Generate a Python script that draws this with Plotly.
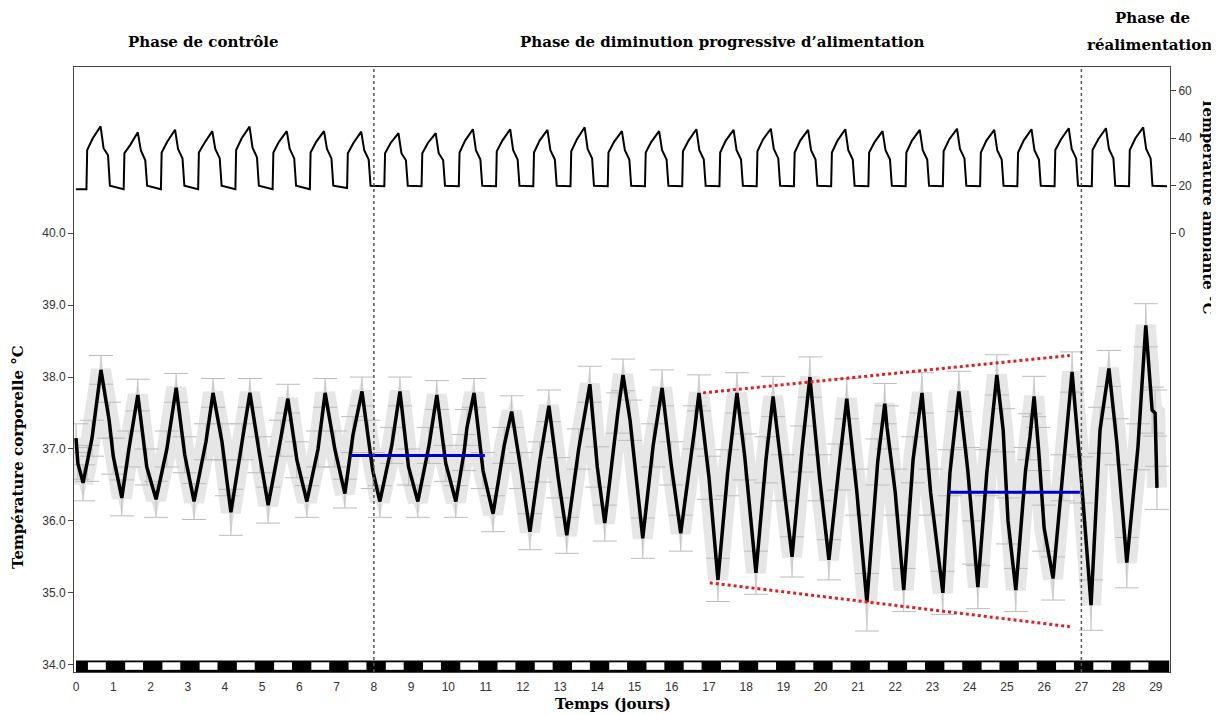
import plotly.graph_objects as go

# ---------------- data ----------------
# Body temperature (°C): time (days), mean value, error half-width
body_t = [
    0.00, 0.05, 0.19, 0.30, 0.43, 0.67, 0.89,
    1.00, 1.23, 1.42, 1.66, 1.90,
    2.15, 2.44, 2.69, 2.92,
    3.17, 3.49, 3.68, 3.92,
    4.05, 4.16, 4.46, 4.67, 4.93,
    5.16, 5.50, 5.69, 5.93,
    6.20, 6.50, 6.69, 6.95,
    7.22, 7.44, 7.68, 7.85, 7.97,
    8.16, 8.48, 8.70, 8.93,
    9.18, 9.48, 9.69, 9.93,
    10.20, 10.42, 10.50, 10.69, 10.93,
    11.20, 11.50, 11.70, 11.95,
    12.19, 12.45, 12.70, 12.95,
    13.18, 13.50, 13.80, 14.00,
    14.20, 14.55, 14.69, 14.88,
    15.22, 15.50, 15.74, 15.98,
    16.24, 16.62, 16.73, 17.00,
    17.24, 17.50, 17.75, 17.96,
    18.26, 18.53, 18.72, 18.98,
    19.23, 19.50, 19.71, 19.97,
    20.22, 20.49, 20.70, 20.97,
    21.24, 21.53, 21.72, 21.78, 22.00,
    22.23, 22.48, 22.72, 22.95,
    23.28, 23.47, 23.71, 23.95,
    24.12, 24.22, 24.46, 24.73, 24.90, 25.03,
    25.24, 25.50, 25.62, 25.73, 25.85, 26.00,
    26.24, 26.50, 26.75, 27.00,
    27.26, 27.50, 27.74, 27.95,
    28.22, 28.52, 28.73, 28.90, 28.98, 29.03,
]
body_v = [
    37.15, 36.80, 36.53, 36.80, 37.15, 38.10, 37.40,
    36.90, 36.32, 37.00, 37.75, 36.75,
    36.30, 37.00, 37.85, 36.92,
    36.27, 37.10, 37.78, 37.10,
    36.60, 36.12, 37.10, 37.78, 36.92,
    36.22, 37.15, 37.70, 36.85,
    36.27, 37.00, 37.78, 37.00,
    36.38, 37.20, 37.80, 37.15, 36.70,
    36.27, 37.05, 37.80, 36.75,
    36.27, 37.05, 37.75, 36.80,
    36.27, 36.95, 37.30, 37.78, 36.70,
    36.10, 37.05, 37.52, 36.70,
    35.85, 36.82, 37.60, 36.60,
    35.80, 37.00, 37.90, 36.75,
    35.97, 37.50, 38.03, 37.40,
    35.76, 37.05, 37.85, 36.80,
    35.83, 37.30, 37.78, 36.60,
    35.18, 36.67, 37.78, 36.89,
    35.28, 36.85, 37.73, 36.60,
    35.50, 37.00, 38.00, 36.60,
    35.46, 36.75, 37.70, 36.40,
    34.87, 36.82, 37.63, 37.30, 36.40,
    35.04, 36.85, 37.78, 36.40,
    35.00, 36.67, 37.80, 36.70,
    35.70, 35.08, 36.67, 38.03, 37.26, 36.00,
    35.04, 36.70, 37.17, 37.73, 37.00, 35.90,
    35.20, 36.60, 38.07, 36.57,
    34.83, 37.26, 38.12, 37.10,
    35.42, 37.03, 38.72, 37.54, 37.50, 36.46,
]
body_err = [
    0.20, 0.22, 0.25, 0.25, 0.25, 0.20, 0.25,
    0.25, 0.25, 0.25, 0.22, 0.25,
    0.25, 0.25, 0.20, 0.25,
    0.25, 0.25, 0.20, 0.25,
    0.25, 0.32, 0.25, 0.20, 0.25,
    0.25, 0.25, 0.20, 0.25,
    0.22, 0.25, 0.20, 0.25,
    0.20, 0.25, 0.20, 0.25, 0.25,
    0.22, 0.25, 0.20, 0.25,
    0.22, 0.25, 0.20, 0.25,
    0.22, 0.25, 0.25, 0.20, 0.25,
    0.25, 0.25, 0.22, 0.25,
    0.25, 0.28, 0.22, 0.28,
    0.25, 0.28, 0.25, 0.28,
    0.25, 0.28, 0.22, 0.28,
    0.28, 0.30, 0.25, 0.30,
    0.25, 0.30, 0.25, 0.30,
    0.30, 0.32, 0.28, 0.32,
    0.30, 0.32, 0.28, 0.32,
    0.28, 0.32, 0.28, 0.32,
    0.28, 0.32, 0.28, 0.32,
    0.40, 0.32, 0.28, 0.30, 0.32,
    0.30, 0.32, 0.28, 0.32,
    0.30, 0.32, 0.28, 0.32,
    0.30, 0.30, 0.32, 0.28, 0.30, 0.32,
    0.30, 0.32, 0.32, 0.28, 0.30, 0.32,
    0.30, 0.32, 0.28, 0.32,
    0.35, 0.32, 0.25, 0.32,
    0.35, 0.32, 0.30, 0.32, 0.32, 0.30,
]

# Ambient temperature (°C), one value per daily cycle (days 0..28)
amb_days = list(range(29))
amb_base = [18.5, 18.5, 18.5, 18.5, 18.5, 18.5, 18.5, 19.0, 19.8, 19.8,
            19.8, 19.8, 19.8, 19.8, 19.8, 19.8, 19.8, 19.8, 19.8, 19.8,
            19.8, 19.8, 19.8, 19.8, 19.8, 19.8, 19.8, 19.8, 19.8]
amb_jump = [35.0, 33.7, 34.0, 34.0, 35.0, 34.0, 34.0, 33.7, 33.7, 33.7,
            34.0, 34.5, 34.0, 34.5, 34.0, 34.0, 34.5, 34.0, 34.5, 34.0,
            34.0, 34.0, 34.0, 34.5, 34.0, 34.0, 35.0, 35.0, 35.0]
amb_mid = [40.0, 37.0, 38.5, 38.0, 40.0, 38.5, 38.5, 38.0, 38.0, 38.0,
           39.0, 39.0, 39.0, 39.5, 38.5, 38.5, 39.0, 39.0, 39.5, 39.0,
           39.0, 38.5, 39.0, 39.5, 39.0, 39.0, 39.5, 39.5, 40.0]
amb_peak = [45.0, 42.5, 43.6, 43.0, 44.9, 43.0, 43.0, 42.8, 42.1, 42.1,
            43.8, 43.8, 43.5, 44.6, 43.0, 43.0, 43.8, 43.5, 44.0, 43.5,
            43.8, 43.0, 43.5, 44.0, 43.5, 43.8, 44.2, 44.2, 44.6]
amb_fall = [35.8, 35.0, 35.5, 35.5, 36.0, 35.5, 35.5, 35.0, 33.7, 33.7,
            35.0, 35.0, 35.0, 35.5, 35.0, 35.0, 35.0, 35.0, 35.5, 35.0,
            35.0, 35.0, 35.0, 35.5, 35.0, 35.0, 35.5, 35.5, 35.5]
amb_late = [32.8, 30.7, 31.5, 31.5, 32.0, 31.5, 31.5, 31.0, 30.7, 30.7,
            31.0, 31.0, 31.0, 31.5, 31.0, 31.0, 31.0, 31.0, 31.5, 31.0,
            31.0, 31.0, 31.0, 31.5, 31.0, 31.0, 31.5, 31.5, 31.5]
amb_night = [20.0] * 29
# time within each day of: lights on, jump, mid-rise, peak, fall, late, drop
amb_phase = [0.28, 0.30, 0.45, 0.66, 0.74, 0.86, 0.91]
amb_end = (29.30, 19.8)

# light (white) / dark (black) schedule within each day
light_days = list(range(29))
light_on, light_off = 0.32, 0.80

x_ticks = list(range(30))
y_ticks = [34, 35, 36, 37, 38, 39, 40]
y2_ticks = [0, 20, 40, 60]

phase_bounds = [8, 27]
mean_lines = [((7.36, 10.98), 36.91), ((23.42, 26.96), 36.40)]
trend_upper = ((16.84, 26.69), (37.78, 38.30))
trend_lower = ((17.02, 26.69), (35.14, 34.53))

# ---------------- build figure ----------------
amb_t, amb_v = [0.0], [amb_base[0]]
for i, d in enumerate(amb_days):
    vals = [amb_base[i], amb_jump[i], amb_mid[i], amb_peak[i],
            amb_fall[i], amb_late[i], amb_night[i]]
    for ph, v in zip(amb_phase, vals):
        amb_t.append(d + ph)
        amb_v.append(v)
amb_t.append(amb_end[0])
amb_v.append(amb_end[1])

upper = [v + e for v, e in zip(body_v, body_err)]
lower = [v - e for v, e in zip(body_v, body_err)]

fig = go.Figure()
# grey error region (dense error caps in the original)
fig.add_trace(go.Scatter(
    x=body_t + body_t[::-1], y=upper + lower[::-1], fill="toself",
    fillcolor="#e2e2e2", line=dict(width=0), mode="lines",
    hoverinfo="skip", showlegend=False))
fig.add_trace(go.Scatter(
    x=body_t, y=body_v, mode="lines",
    line=dict(color="#e6e6e6", width=20),
    hoverinfo="skip", showlegend=False))
fig.add_trace(go.Scatter(
    x=body_t, y=body_v, mode="markers",
    marker=dict(size=1, color="rgba(0,0,0,0)"),
    error_y=dict(type="data", array=body_err, color="#bcbcbc",
                 thickness=1, width=12),
    showlegend=False, hoverinfo="skip"))
fig.add_trace(go.Scatter(
    x=body_t, y=body_v, mode="lines",
    line=dict(color="black", width=3.5), showlegend=False))
fig.add_trace(go.Scatter(
    x=amb_t, y=amb_v, mode="lines", yaxis="y2",
    line=dict(color="black", width=2), showlegend=False))

for (x0, x1), yv in mean_lines:
    fig.add_trace(go.Scatter(x=[x0, x1], y=[yv, yv], mode="lines",
                             line=dict(color="#0000cc", width=3),
                             showlegend=False))
for (xs, ys) in (trend_upper, trend_lower):
    fig.add_trace(go.Scatter(x=list(xs), y=list(ys), mode="lines",
                             line=dict(color="#e02020", width=3, dash="dot"),
                             showlegend=False))

shapes = []
# light/dark bar
shapes.append(dict(type="rect", xref="x", yref="y", x0=0, x1=29.36,
                   y0=33.90, y1=34.06, fillcolor="black",
                   line=dict(width=0), layer="above"))
for d in light_days:
    shapes.append(dict(type="rect", xref="x", yref="y",
                       x0=d + light_on, x1=d + light_off,
                       y0=33.93, y1=34.035, fillcolor="white",
                       line=dict(width=0), layer="above"))
for xb in phase_bounds:
    shapes.append(dict(type="line", xref="x", yref="paper", x0=xb, x1=xb,
                       y0=0, y1=1, line=dict(color="#555555", width=1.5,
                                             dash="dot")))

# page body has an 8 px margin: positions are in reference pixels minus 8
OFF = 8
FIG_W, FIG_H = 1219 - OFF, 715 - OFF
L, R, T, B = 74 - OFF, 1170 - OFF, 67 - OFF, 672 - OFF
W, H = R - L, B - T


def px(x):
    return (x - OFF - L) / W


def py(y):
    return (B - (y - OFF)) / H


title_font = dict(family="DejaVu Serif", size=15, color="black")
annotations = [
    dict(text="<b>Phase de contrôle</b>", x=px(203), y=py(42)),
    dict(text="<b>Phase de diminution progressive d’alimentation</b>",
         x=px(722), y=py(42)),
    dict(text="<b>Phase de</b>", x=px(1152), y=py(18)),
    dict(text="<b>réalimentation</b>", x=px(1149), y=py(45)),
    dict(text="<b>Temps (jours)</b>", x=px(613), y=py(704)),
    dict(text="<b>Température corporelle °C</b>", x=px(18), y=py(457),
         textangle=-90),
    dict(text="<b>Température ambiante °C</b>", x=px(1208), y=py(206),
         textangle=90),
]
for a in annotations:
    a.update(xref="paper", yref="paper", showarrow=False,
             xanchor="center", yanchor="middle", font=title_font)

tick_font = dict(family="Liberation Sans", size=12, color="#333333")
fig.update_layout(
    width=FIG_W, height=FIG_H,
    margin=dict(l=L, r=FIG_W - R, t=T, b=FIG_H - B),
    plot_bgcolor="white", paper_bgcolor="white",
    showlegend=False,
    shapes=shapes, annotations=annotations,
    xaxis=dict(range=[-0.054, 29.38], tickvals=x_ticks,
               ticktext=[str(v) for v in x_ticks], ticks="",
               showline=True, mirror=True, linecolor="#444444",
               showgrid=False, zeroline=False, tickfont=tick_font,
               ticklabelstandoff=4),
    yaxis=dict(range=[33.90, 42.31], tickvals=y_ticks,
               ticktext=[f"{v:.1f}" for v in y_ticks], ticks="outside",
               ticklen=5, tickcolor="#444444", showline=True, mirror=True,
               linecolor="#444444", showgrid=False, zeroline=False,
               tickfont=tick_font),
    yaxis2=dict(range=[-184.8, 70.0], overlaying="y", side="right",
                tickvals=y2_ticks, ticktext=[str(v) for v in y2_ticks],
                ticks="outside", ticklen=5, tickcolor="#444444",
                showline=True, linecolor="#444444", showgrid=False,
                zeroline=False, tickfont=tick_font),
)

fig.write_html("out.html")
